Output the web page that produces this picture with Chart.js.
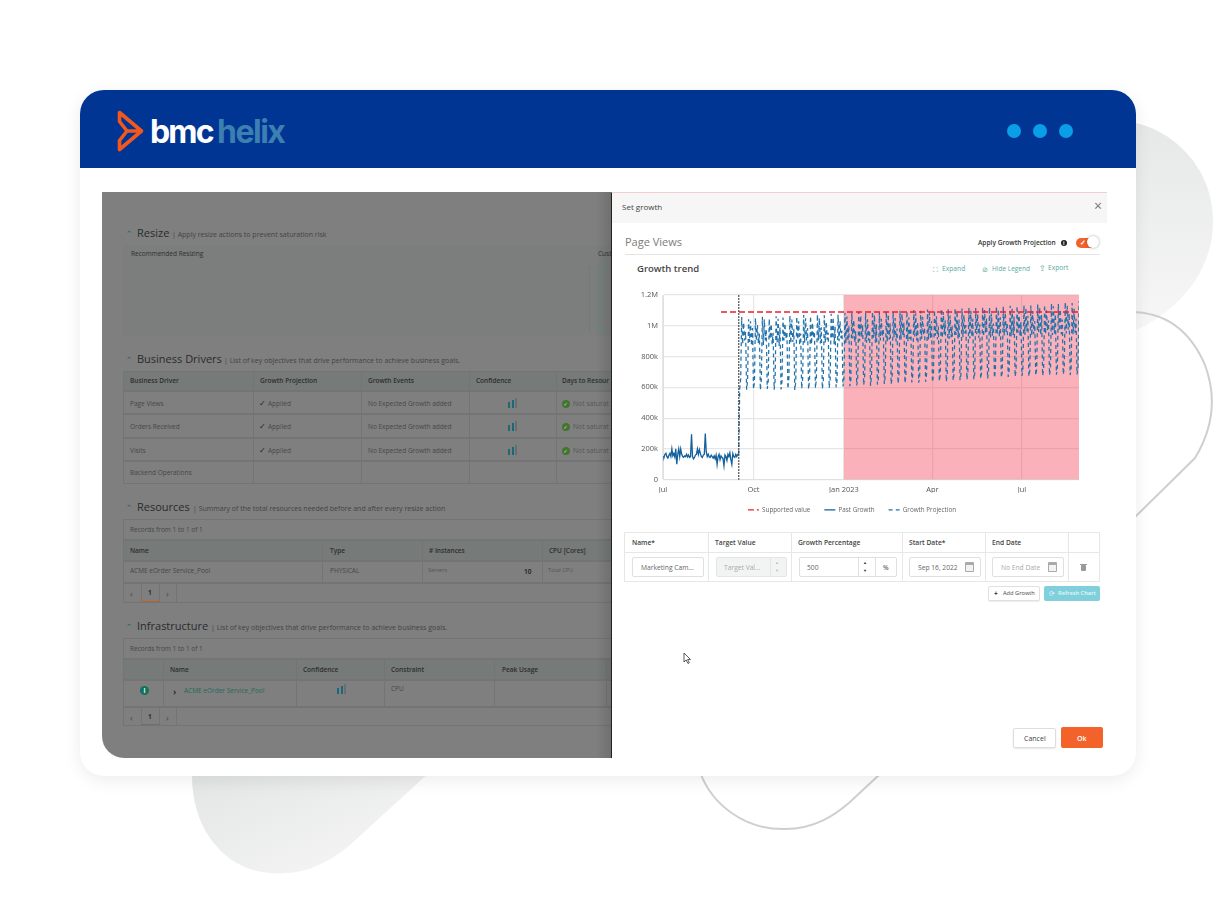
<!DOCTYPE html>
<html><head><meta charset="utf-8">
<script src="https://cdn.jsdelivr.net/npm/chart.js@4"></script>
<style>
html,body{margin:0;padding:0;background:#fff;width:1216px;height:900px;overflow:hidden;font-family:"Open Sans",sans-serif}
#page{position:relative;width:1216px;height:900px;overflow:hidden}
.a{position:absolute;box-sizing:border-box}
.t{position:absolute;white-space:nowrap;line-height:1;transform:translateY(-50%)}
#chartBox{position:absolute;left:625px;top:285px;width:472px;height:242px}
</style></head><body>
<div id="page">
<svg class="a" style="left:0;top:0" width="1216" height="900">
<defs>
<linearGradient id="g1" x1="0" y1="0" x2="0" y2="1"><stop offset="0" stop-color="#e6e7e7"/><stop offset="1" stop-color="#f7f7f7"/></linearGradient>
<linearGradient id="g2" x1="0" y1="0" x2="1" y2="1"><stop offset="0" stop-color="#e3e4e4"/><stop offset="1" stop-color="#f8f8f8"/></linearGradient>
</defs>
<path d="M1130 122 C1170 128 1213 165 1213 222 C1213 270 1180 310 1136 330 L1100 330 L1100 122 Z" fill="url(#g1)"/>
<path d="M192 770 L432 770 L350 845 C320 870 295 875 270 873 C225 870 192 830 192 776 Z" fill="url(#g2)"/>
<path d="M1130 312 C1165 312 1190 330 1205 365 C1218 400 1212 430 1195 458 L1132 520" fill="none" stroke="#cfcfcf" stroke-width="2"/>
<path d="M700 772 C712 805 745 830 785 829 C815 829 835 815 850 802 L880 774" fill="none" stroke="#cfcfcf" stroke-width="2"/>
</svg>
<div class="a" style="left:80px;top:90px;width:1056px;height:686px;background:#fff;border-radius:24px;box-shadow:0 4px 18px rgba(0,0,0,.08)"></div>
<div class="a" style="left:80px;top:90px;width:1056px;height:78px;background:#003594;border-radius:24px 24px 0 0"></div>
<svg class="a" style="left:116px;top:109px" width="30" height="44"><path d="M3.5 3.5 L25.5 22 L3.5 40.5 L3.5 31.5 L11 22 L3.5 12.5 Z M11 22 L25.5 22" fill="none" stroke="#f2571d" stroke-width="3.6" stroke-linejoin="round"/></svg>
<div class="t" style="left:150px;top:131px;font:700 32px Inter,sans-serif;letter-spacing:-1.8px;color:#fff">bmc</div>
<div class="t" style="left:217px;top:131px;font:700 32px Inter,sans-serif;letter-spacing:-1.5px;color:#3c7fb1">helix</div>
<div class="a" style="left:1007px;top:124px;width:14px;height:14px;border-radius:50%;background:#0a9de8"></div>
<div class="a" style="left:1033px;top:124px;width:14px;height:14px;border-radius:50%;background:#0a9de8"></div>
<div class="a" style="left:1059px;top:124px;width:14px;height:14px;border-radius:50%;background:#0a9de8"></div>
<div class="a" id="leftPanel" style="left:102px;top:192px;width:509px;height:566px;background:#7f7f7f;border-radius:0 0 0 22px;overflow:hidden"></div>
<div class="a" style="left:611px;top:192px;width:496px;height:566px;background:#fff;border-top:1px solid #f6ccd3;border-left:1px solid #222"></div>
<div class="a" style="left:612px;top:193px;width:495px;height:30px;background:#f6f6f6"></div>
<div id="ui"></div>
<div id="chartBox"><canvas id="chart"></canvas></div>
</div>
<script>
// Days are counted from 1 Jul 2022; values are in thousands of page views.
const xTickDays = [0, 92, 184, 274, 365];
const xTickLabels = ['Jul', 'Oct', 'Jan 2023', 'Apr', 'Jul'];
const yTickValues = [0, 200, 400, 600, 800, 1000, 1200];
const yTickLabels = ['0', '200k', '400k', '600k', '800k', '1M', '1.2M'];
const seriesNames = ['Supported value', 'Past Growth', 'Growth Projection'];
const supportedDays = [59, 423];
const supportedValues = [1090, 1090];
const eventDay = 77;
const riskDays = [184, 423];
const pastGrowth = [
 150,145,165,172,150,140,158,170,150,200,155,170,148,200,100,165,200,150,200,165,150,145,155,150,165,148,160,145,150,295,
 150,135,145,160,165,200,165,195,170,150,145,160,165,300,180,150,165,148,145,160,150,140,155,135,160,100,150,165,130,155,
 145,135,90,160,150,125,165,150,175,130,100,170,150,145,165,150,165,165];
const projection = [
 165,590,655,1057,880,1020,905,960,
 585,640,1042,895,1030,870,985,
 588,635,1050,900,1005,885,950,
 582,650,1058,875,1040,905,975,
 590,640,1046,915,1010,880,955,
 584,648,1062,890,1045,870,990,
 586,640,1053,905,1015,915,960,
 590,655,1066,885,1040,895,980,
 583,636,1058,912,1030,875,950,
 592,650,1070,890,1048,905,985,
 588,645,1062,880,1020,920,962,
 594,658,1074,905,1050,885,990,
 590,640,1068,890,1025,910,955,
 596,655,1078,915,1055,880,995,
 600,645,1072,900,1030,920,968,
 605,660,1084,885,1060,900,1000,
 608,650,1086,918,1038,890,965,
 612,665,1090,900,1066,925,1005,
 615,655,1084,890,1042,905,972,
 610,668,1092,922,1070,890,1010,
 618,658,1088,905,1045,930,978,
 622,672,1095,895,1074,910,1015,
 620,662,1090,925,1050,898,982,
 625,676,1098,910,1078,935,1020,
 628,668,1094,900,1054,915,986,
 632,680,1102,930,1082,905,1025,
 630,672,1098,915,1058,940,990,
 636,684,1106,908,1086,920,1030,
 634,676,1102,935,1062,912,995,
 640,688,1110,920,1090,945,1035,
 638,680,1108,914,1066,925,1000,
 644,692,1114,940,1094,918,1040,
 646,686,1112,925,1070,950,1005,
 650,696,1118,918,1098,930,1045,
 652,690,1116,945,1076,922,1010,
 656,700,1122,930,1102,955,1050,
 658,696,1120,924,1080,935,1015,
 662,706,1126,950,1106,928,1055,
 664,700,1124,935,1086,960,1020,
 668,712,1130,930,1110,940,1060,
 670,706,1128,955,1090,934,1025,
 674,716,1134,940,1116,965,1065,
 672,710,1132,935,1096,945,1030,
 678,720,1140,960,1120,940,1070,
 676,714,1136,945,1100,970,1035,
 680,724,1146,940,1126,950,1075,
 682,718,1142,965,1106,945,1040,
 684,728,1152,950,1130,975,1080,
 680,722,1148,945,1110,955,1045,
 684,730,1160];
const pastPoints = pastGrowth.map((v, i) => ({x: i, y: v}));
const projectionPoints = projection.map((v, i) => ({x: eventDay + i, y: v}));
const supportedPoints = supportedDays.map((d, i) => ({x: d, y: supportedValues[i]}));
const eventPoints = [{x: eventDay, y: yTickValues[0]}, {x: eventDay, y: yTickValues[6]}];
const riskPoints = riskDays.map(d => ({x: d, y: yTickValues[6]}));

new Chart(document.getElementById('chart'), {
  type: 'line',
  data: {datasets: [
    {label: seriesNames[0], data: supportedPoints, borderColor: '#e8202f', backgroundColor: 'transparent', borderDash: [6, 3], borderWidth: 1.6, pointRadius: 0, order: 1},
    {label: seriesNames[1], data: pastPoints, borderColor: '#12609c', backgroundColor: 'transparent', borderWidth: 1.3, pointRadius: 0, tension: 0, order: 3},
    {label: seriesNames[2], data: projectionPoints, borderColor: '#2272ab', backgroundColor: 'transparent', borderDash: [4, 3.2], borderWidth: 1.25, pointRadius: 0, tension: 0, order: 2},
    {label: 'event', data: eventPoints, borderColor: '#333', borderDash: [1.5, 1.5], borderWidth: 1.4, pointRadius: 0, order: 0},
    {label: 'risk', data: riskPoints, borderColor: 'transparent', borderWidth: 0, backgroundColor: 'rgba(245,60,80,.4)', fill: 'origin', pointRadius: 0, order: 5}
  ]},
  options: {
    responsive: true, maintainAspectRatio: false, animation: false,
    layout: {padding: {top: 10, right: 18, left: 0, bottom: 4}},
    plugins: {
      tooltip: {enabled: false},
      legend: {position: 'bottom', align: 'center',
        labels: {usePointStyle: true, pointStyle: 'line', pointStyleWidth: 11, boxHeight: 6, padding: 14, color: '#666', font: {family: '"Open Sans"', size: 6.3},
          generateLabels: chart => Chart.defaults.plugins.legend.labels.generateLabels(chart).map(item => {
            const ds = chart.data.datasets[item.datasetIndex];
            return Object.assign(item, {lineDash: ds.borderDash || [], strokeStyle: ds.borderColor, lineWidth: 1.3});
          }),
          filter: item => seriesNames.includes(item.text),
          sort: (a, b) => seriesNames.indexOf(a.text) - seriesNames.indexOf(b.text)}}
    },
    scales: {
      x: {type: 'linear', min: 0, max: 423, grid: {color: '#e6e6e6', lineWidth: 1.2, drawTicks: false}, border: {color: '#e0e0e0'},
        afterFit: s => { s.height = 13; },
        afterBuildTicks: s => { s.ticks = xTickDays.map(v => ({value: v})); },
        ticks: {autoSkip: false, maxRotation: 0, padding: 6, color: '#555', font: {family: '"Open Sans"', size: 7.5},
          callback: v => xTickLabels[xTickDays.indexOf(v)]}},
      y: {min: 0, max: 1200, grid: {color: '#e6e6e6', lineWidth: 1.2, drawTicks: false}, border: {color: '#e0e0e0'},
        afterFit: s => { s.width = 38; },
        afterBuildTicks: s => { s.ticks = yTickValues.map(v => ({value: v})); },
        ticks: {autoSkip: false, padding: 5, color: '#555', font: {family: '"Open Sans"', size: 7.5},
          callback: v => yTickLabels[yTickValues.indexOf(v)]}}
    }
  }
});

// Surrounding application UI
const ui = document.getElementById('ui');
const lp = document.getElementById('leftPanel');
function txt(x, y, s, size, color, weight, parent) {
  const d = document.createElement('div'); d.className = 't';
  d.style.cssText = `left:${x}px;top:${y}px;font-size:${size}px;color:${color};font-weight:${weight||400}`;
  d.textContent = s; (parent||ui).appendChild(d); return d;
}
function box(x, y, w, h, css, parent) {
  const d = document.createElement('div'); d.className = 'a';
  d.style.cssText = `left:${x}px;top:${y}px;width:${w}px;height:${h}px;${css||''}`;
  (parent||ui).appendChild(d); return d;
}
const L = (x, y, s, size, color, weight) => txt(x-102, y-192, s, size, color, weight, lp);
const B = (x, y, w, h, css) => box(x-102, y-192, w, h, css, lp);
const dark = '#2d2f2f', mid = '#454847', hdr = '#767a79', line = '#737575';
function head(y, title, tw, sub) {
  L(126, y, '⌃', 7, '#2a6a62', 700);
  L(137, y-1, title, 11, '#2a2c2c');
  L(137 + tw, y + 1, sub, 7, '#424444');
}
head(233, 'Resize', 35, '| Apply resize actions to prevent saturation risk');
head(359, 'Business Drivers', 87, '| List of key objectives that drive performance to achieve business goals.');
head(507, 'Resources', 56, '| Summary of the total resources needed before and after every resize action');
head(626, 'Infrastructure', 74, '| List of key objectives that drive performance to achieve business goals.');
B(123, 245, 488, 91, 'background:#7c7d7d');
L(131, 254, 'Recommended Resizing', 6.5, dark, 400);
L(598, 254, 'Cust', 6.5, dark, 400);
B(589, 267, 1, 64, 'border-left:1px dotted #6c7474');
B(598, 267, 20, 64, 'border:1px dashed #4f8f88;border-radius:2px');
function conf(x, y) {
  B(x, y-2, 2, 6, 'background:#19697a');
  B(x+3.5, y-4, 2, 8, 'background:#19697a');
  B(x+7, y-6, 1.5, 10, 'background:#6a6d6d');
}
function table(cols, rows, right) {
  rows.forEach(r => {
    B(123, r[0], right-123, r[1]-r[0], `border:1px solid ${line};${r[2]?'background:'+hdr:''}`);
  });
  cols.forEach(c => B(c, rows[0][0], 1, rows[rows.length-1][1]-rows[0][0], `background:${line}`));
}
table([253,361,469,556], [[371,391,1],[391,414],[414,438],[438,461],[461,484]], 620);
[['Business Driver',130],['Growth Projection',260],['Growth Events',368],['Confidence',476],['Days to Resour',562]].forEach(h => L(h[1], 381, h[0], 6.5, dark, 600));
[['Page Views',404],['Orders Received',427],['Visits',451]].forEach(r => {
  L(130, r[1], r[0], 6.5, mid);
  L(259, r[1], '✓', 8, '#1d1f1f', 700).style.fontFamily = '"DejaVu Sans"';
  L(268, r[1], 'Applied', 6.5, mid);
  L(368, r[1], 'No Expected Growth added', 6.5, mid);
  conf(508, r[1]);
  B(562, r[1]-4, 8, 8, 'background:#437530;border-radius:50%');
  L(563.5, r[1], '✓', 5, '#d5dcd2', 700).style.fontFamily = '"DejaVu Sans"';
  L(573, r[1], 'Not saturat', 6.8, '#555858');
});
L(130, 473, 'Backend Operations', 6.5, mid);
B(123, 519, 500, 21, `border:1px solid ${line}`);
L(130, 530, 'Records from 1 to 1 of 1', 6.5, mid);
table([322,422,542], [[540,561,1],[561,583]], 620);
[['Name',130],['Type',330],['# Instances',429],['CPU [Cores]',549]].forEach(h => L(h[1], 551, h[0], 6.5, dark, 600));
L(130, 571, 'ACME eOrder Service_Pool', 6.5, mid);
L(330, 571, 'PHYSICAL', 6.5, mid);
L(428, 571, 'Servers', 5.5, '#555');
L(524, 572, '10', 6.5, dark, 700);
L(548, 571, 'Total CPU', 5.5, '#555');
function pager(y, h, bar) {
  B(123, y, 500, h, `border:1px solid ${line}`);
  B(141, y, 1, h, `background:${line}`); B(159, y, 1, h, `background:${line}`); B(176, y, 1, h, `background:${line}`);
  L(130, y+h/2, '‹', 9, mid); L(148, y+h/2, '1', 6.5, dark, 700); L(166, y+h/2, '›', 9, mid);
  B(141, y+h-2, 18, 1, `background:${bar}`);
}
pager(583, 20, '#c45a2a');
B(123, 638, 500, 21, `border:1px solid ${line}`);
L(130, 649, 'Records from 1 to 1 of 1', 6.5, mid);
table([163,296,384,494,606], [[659,680,1],[680,707]], 620);
[['Name',170],['Confidence',303],['Constraint',391],['Peak Usage',502]].forEach(h => L(h[1], 670, h[0], 6.5, dark, 600));
B(140, 686, 9, 9, 'background:#14705f;border-radius:50%');
L(143.5, 690.5, 'i', 6.5, '#dfe', 700);
L(173, 691, '›', 9, dark, 700);
L(184, 691, 'ACME eOrder Service_Pool', 6.5, '#1f6a5c');
conf(337, 690);
L(391, 689, 'CPU', 6.5, mid);
pager(707, 19, '#6e7070');
B(596, 192, 15, 566, 'background:linear-gradient(90deg,rgba(0,0,0,0),rgba(0,0,0,.12))');

// right panel
txt(622, 207, 'Set growth', 8, '#444');
txt(1094, 205.5, '×', 14, '#777');
txt(625, 241, 'Page Views', 11, '#7b7b7b');
box(625, 254, 475, 1, 'background:#e4e4e4');
txt(978, 243, 'Apply Growth Projection', 6.6, '#333', 600);
box(1061, 240, 6, 6, 'background:#222;border-radius:50%');
txt(1063, 243, 'i', 5, '#fff', 700);
box(1076, 238, 20, 10, 'background:#f2622a;border-radius:5px');
txt(1080, 243, '✓', 6.5, '#fff', 700);
box(1087, 236, 12, 12, 'background:#fff;border-radius:50%;box-shadow:0 0 3px rgba(0,0,0,.35)');
txt(637, 269, 'Growth trend', 9.5, '#444', 600);
const teal = '#5aa9a3';
txt(933, 269, '⛶', 7, teal); txt(942, 269, 'Expand', 6.7, teal);
txt(982, 269, '⊘', 7, teal); txt(992, 269, 'Hide Legend', 6.5, teal);
txt(1039, 268, '⇪', 8, teal); txt(1048, 268, 'Export', 6.7, teal);
const bd = '#e6e8e8';
box(624, 532, 476, 50, `border:1px solid ${bd}`);
box(625, 552, 474, 1, `background:${bd}`);
[708,791,902,985,1068].forEach(x => box(x, 533, 1, 48, `background:${bd}`));
[['Name*',632],['Target Value',715],['Growth Percentage',798],['Start Date*',909],['End Date',992]].forEach(h => txt(h[1], 543, h[0], 6.7, '#444', 600));
const inp = 'background:#fff;border:1px solid #dfe1e1;border-radius:2px';
box(632, 557, 72, 20, inp); txt(641, 567.5, 'Marketing Cam...', 6.7, '#666');
box(716, 557, 71, 20, 'background:#f2f4f4;border:1px solid #e4e6e6;border-radius:2px'); txt(724, 567.5, 'Target Val...', 6.7, '#aaa');
box(770, 558, 1, 18, 'background:#e4e6e6');
txt(775, 563, '▲', 4, '#bbb'); txt(775, 571, '▼', 4, '#bbb');
box(799, 557, 98, 20, inp); txt(807, 567.5, '500', 6.7, '#666');
box(858, 558, 1, 18, 'background:#dfe1e1'); box(875, 558, 1, 18, 'background:#dfe1e1');
txt(863, 563, '▲', 4, '#333'); txt(863, 571, '▼', 4, '#333');
txt(883, 567.5, '%', 6.5, '#666', 600);
box(909, 557, 72, 20, inp); txt(918, 567.5, 'Sep 16, 2022', 6.7, '#666');
box(992, 557, 72, 20, inp); txt(1001, 567.5, 'No End Date', 6.7, '#aaa');
[965,1048].forEach(x => { box(x, 562, 9, 10, 'border:1px solid #aaa;border-top:3px solid #aaa;border-radius:1px;background:#f3f3f3'); });
box(1081, 565, 5, 6, 'background:#999;border-radius:1px'); box(1080, 563.5, 7, 1, 'background:#999');
box(988, 586, 52, 15, inp + ';box-shadow:0 1px 1px rgba(0,0,0,.08)');
txt(994, 593.5, '+', 6.5, '#333', 700); txt(1003, 593.5, 'Add Growth', 5.7, '#444');
box(1044, 586, 56, 15, 'background:#7fd0dc;border-radius:2px');
txt(1049, 593.5, '⟳', 6.5, '#e4f6f8'); txt(1058, 593.5, 'Refresh Chart', 5.7, '#e4f6f8', 600);
box(1013, 728, 43, 20, 'background:#fff;border:1px solid #dcdede;border-radius:2px;box-shadow:0 1px 2px rgba(0,0,0,.1)');
txt(1024, 738, 'Cancel', 7, '#444');
box(1061, 727, 42, 21, 'background:#f2622a;border-radius:2px');
txt(1077, 738, 'Ok', 7, '#fff', 600);
const cur = document.createElementNS('http://www.w3.org/2000/svg','svg');
cur.setAttribute('width','10'); cur.setAttribute('height','14');
cur.style.cssText='position:absolute;left:683px;top:652px';
cur.innerHTML='<path d="M1 1 L1 10 L3.2 8 L5 11.5 L6.3 10.8 L4.6 7.5 L7.5 7.5 Z" fill="#fff" stroke="#333" stroke-width=".8"/>';
ui.appendChild(cur);
</script>
</body></html>
